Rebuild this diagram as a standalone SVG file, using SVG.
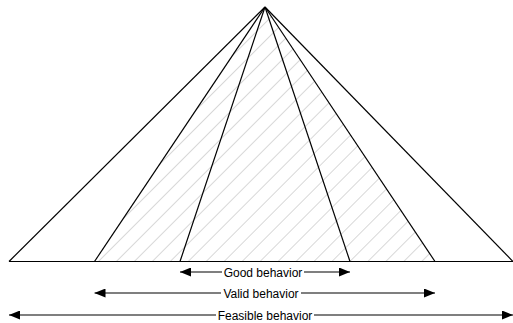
<svg xmlns="http://www.w3.org/2000/svg" width="513" height="323" viewBox="0 0 513 323">
<style>
.edge{stroke:#000;stroke-width:1.2;fill:none}
.dim{stroke:#000;stroke-width:1.2;fill:none}
.lbl{font-family:"Liberation Sans",Arial,sans-serif;font-size:12px;fill:#000;text-anchor:middle}
</style>
<defs>
<pattern id="hatch" patternUnits="userSpaceOnUse" width="12.7" height="12.7" patternTransform="rotate(45)">
<line x1="0" y1="0" x2="0" y2="12.7" stroke="#b0b0b0" stroke-width="1"/>
</pattern>
<marker id="ah" viewBox="0 0 11 9" refX="11" refY="4.5" markerWidth="11" markerHeight="9" markerUnits="userSpaceOnUse" orient="auto-start-reverse">
<path d="M0,0 L11,4.5 L0,9 Z" fill="#000"/>
</marker>
</defs>
<g id="valid-region">
<polygon points="265,7 94.5,261.5 435,261.5" fill="url(#hatch)"/>
</g>
<g id="feasible">
<line class="edge" x1="265" y1="7" x2="9" y2="261.5"/>
<line class="edge" x1="265" y1="7" x2="513" y2="261.5"/>
</g>
<g id="valid">
<line class="edge" x1="265" y1="7" x2="94.5" y2="261.5"/>
<line class="edge" x1="265" y1="7" x2="435" y2="261.5"/>
</g>
<g id="good">
<line class="edge" x1="265" y1="7" x2="180" y2="261.5"/>
<line class="edge" x1="265" y1="7" x2="350" y2="261.5"/>
</g>
<g id="baseline">
<line class="edge" x1="9" y1="261.5" x2="513" y2="261.5" stroke-width="1.4"/>
</g>
<g id="connectors">
<line class="dim" x1="180" y1="272" x2="222" y2="272" marker-start="url(#ah)"/>
<line class="dim" x1="304" y1="272" x2="350" y2="272" marker-end="url(#ah)"/>
<line class="dim" x1="94.5" y1="293" x2="221" y2="293" marker-start="url(#ah)"/>
<line class="dim" x1="301" y1="293" x2="435" y2="293" marker-end="url(#ah)"/>
<line class="dim" x1="9" y1="315" x2="216" y2="315" marker-start="url(#ah)" stroke="#333"/>
<line class="dim" x1="314" y1="315" x2="513" y2="315" marker-end="url(#ah)" stroke="#333"/>
</g>
<g id="labels">
<text class="lbl" x="263" y="276.5">Good behavior</text>
<text class="lbl" x="261" y="297.5">Valid behavior</text>
<text class="lbl" x="265" y="319.5">Feasible behavior</text>
</g>
</svg>
